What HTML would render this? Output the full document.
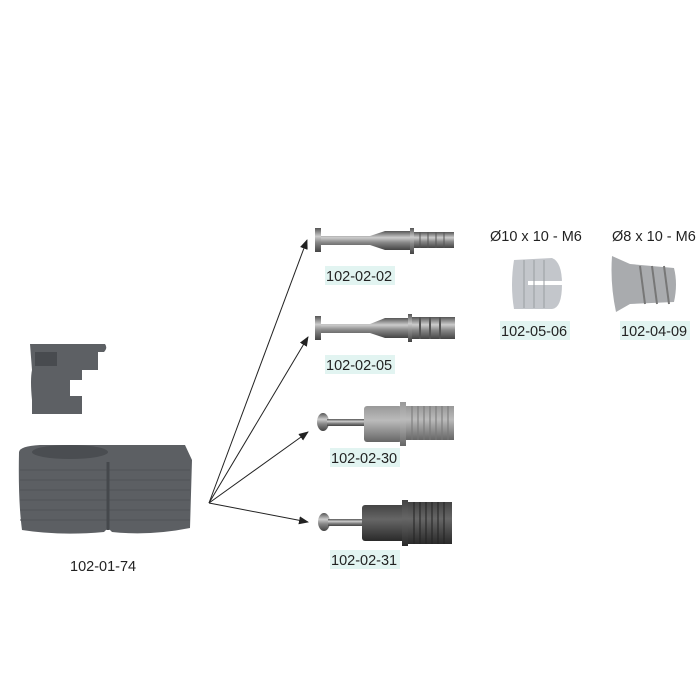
<!DOCTYPE html>
<html><head><style>
body{margin:0;background:#fff}
svg{display:block}
text{font-family:"Liberation Sans",sans-serif;font-size:14.5px;fill:#222}
</style></head><body>
<svg width="700" height="700" viewBox="0 0 700 700">
<defs>
<marker id="a" markerWidth="10" markerHeight="8" refX="9" refY="4" orient="auto" markerUnits="userSpaceOnUse"><path d="M0,0L10,4L0,8z" fill="#222"/></marker>
<linearGradient id="m" x1="0" y1="0" x2="0" y2="1"><stop offset="0" stop-color="#555"/><stop offset=".35" stop-color="#ccc"/><stop offset=".6" stop-color="#888"/><stop offset="1" stop-color="#444"/></linearGradient>
<linearGradient id="g" x1="0" y1="0" x2="0" y2="1"><stop offset="0" stop-color="#999"/><stop offset=".4" stop-color="#bbb"/><stop offset="1" stop-color="#666"/></linearGradient>
<linearGradient id="d" x1="0" y1="0" x2="0" y2="1"><stop offset="0" stop-color="#444"/><stop offset=".4" stop-color="#666"/><stop offset="1" stop-color="#2a2a2a"/></linearGradient>
</defs>
<!-- left pieces -->
<path d="M30,344 L105,344 Q108,348 104,352 L98,352 L98,370 L82,370 L82,380 L70,380 L70,396 L82,396 L82,414 L32,414 L32,400 Q30,380 32,370 L30,344z" fill="#5d6064"/>
<rect x="35" y="352" width="22" height="14" fill="#484b4f"/>
<path d="M19,452 Q20,446 40,445 L185,445 L192,460 L190,528 Q150,536 112,532 L108,528 L104,532 Q60,536 22,530 Q18,500 19,452z" fill="#5c5f63"/>
<ellipse cx="70" cy="452" rx="38" ry="7" fill="#4a4d51"/>
<g stroke="#505357" stroke-width="1">
<line x1="20" y1="470" x2="190" y2="470"/><line x1="20" y1="480" x2="190" y2="480"/><line x1="20" y1="490" x2="190" y2="490"/><line x1="20" y1="500" x2="190" y2="500"/><line x1="20" y1="510" x2="190" y2="510"/><line x1="20" y1="520" x2="190" y2="520"/></g>
<line x1="108" y1="462" x2="108" y2="530" stroke="#45484c" stroke-width="3"/>
<text x="70" y="571">102-01-74</text>
<!-- arrows -->
<g stroke="#222" stroke-width="1" marker-end="url(#a)">
<line x1="209" y1="503" x2="307" y2="240"/>
<line x1="209" y1="503" x2="308" y2="337"/>
<line x1="209" y1="503" x2="308" y2="432"/>
<line x1="209" y1="503" x2="308" y2="522"/>
</g>
<!-- screw 1 -->
<rect x="315" y="228" width="6" height="24" fill="url(#m)"/>
<path d="M321,236 L370,236 L385,231 L412,231 L412,250 L385,250 L370,245 L321,245z" fill="url(#m)"/>
<rect x="410" y="228" width="4" height="26" fill="url(#m)"/>
<rect x="414" y="232" width="40" height="16" fill="url(#m)"/>
<g stroke="#555"><line x1="420" y1="232" x2="420" y2="248"/><line x1="428" y1="232" x2="428" y2="248"/><line x1="436" y1="232" x2="436" y2="248"/><line x1="444" y1="232" x2="444" y2="248"/></g>
<rect x="325" y="266" width="70" height="19" fill="#e2f4f1"/><text x="326" y="281">102-02-02</text>
<!-- screw 2 -->
<rect x="315" y="316" width="6" height="24" fill="url(#m)"/>
<path d="M321,324 L370,324 L385,318 L410,318 L410,338 L385,338 L370,333 L321,333z" fill="url(#m)"/>
<rect x="408" y="314" width="4" height="28" fill="url(#m)"/>
<rect x="412" y="317" width="43" height="22" fill="url(#m)"/>
<g stroke="#555" stroke-width="2"><line x1="420" y1="317" x2="420" y2="339"/><line x1="430" y1="317" x2="430" y2="339"/><line x1="440" y1="317" x2="440" y2="339"/></g>
<rect x="325" y="355" width="70" height="19" fill="#e2f4f1"/><text x="326" y="370">102-02-05</text>
<!-- screw 3 -->
<ellipse cx="323" cy="422" rx="6" ry="9" fill="url(#m)"/>
<rect x="327" y="419" width="40" height="7" fill="url(#m)"/>
<rect x="364" y="406" width="38" height="36" rx="3" fill="url(#g)"/>
<rect x="400" y="402" width="6" height="44" fill="url(#g)"/>
<rect x="406" y="406" width="48" height="34" fill="url(#g)"/>
<g stroke="#777"><line x1="412" y1="406" x2="412" y2="440"/><line x1="418" y1="406" x2="418" y2="440"/><line x1="424" y1="406" x2="424" y2="440"/><line x1="430" y1="406" x2="430" y2="440"/><line x1="436" y1="406" x2="436" y2="440"/><line x1="442" y1="406" x2="442" y2="440"/><line x1="448" y1="406" x2="448" y2="440"/></g>
<rect x="330" y="448" width="70" height="19" fill="#e2f4f1"/><text x="331" y="463">102-02-30</text>
<!-- screw 4 -->
<ellipse cx="324" cy="522" rx="6" ry="9" fill="url(#m)"/>
<rect x="328" y="519" width="38" height="7" fill="url(#m)"/>
<rect x="362" y="505" width="44" height="36" rx="3" fill="url(#d)"/>
<rect x="402" y="500" width="6" height="46" fill="url(#d)"/>
<rect x="408" y="502" width="44" height="42" fill="url(#d)"/>
<g stroke="#222"><line x1="414" y1="502" x2="414" y2="544"/><line x1="420" y1="502" x2="420" y2="544"/><line x1="426" y1="502" x2="426" y2="544"/><line x1="432" y1="502" x2="432" y2="544"/><line x1="438" y1="502" x2="438" y2="544"/><line x1="444" y1="502" x2="444" y2="544"/></g>
<rect x="330" y="550" width="70" height="19" fill="#e2f4f1"/><text x="331" y="565">102-02-31</text>
<!-- inserts -->
<text x="490" y="241">Ø10 x 10 - M6</text>
<text x="612" y="241">Ø8 x 10 - M6</text>
<path d="M514,260 L552,258 Q562,262 562,284 Q562,308 552,309 L514,309 Q510,285 514,260z" fill="#c3c6cb"/>
<rect x="528" y="281" width="34" height="4" fill="#fff"/>
<g stroke="#9a9da2"><line x1="524" y1="260" x2="524" y2="308"/><line x1="534" y1="260" x2="534" y2="308"/><line x1="544" y1="260" x2="544" y2="308"/></g>
<rect x="500" y="321" width="70" height="19" fill="#e2f4f1"/><text x="501" y="336">102-05-06</text>
<path d="M612,256 L630,264 L674,268 Q678,284 674,302 L630,304 L616,312 Q610,284 612,256z" fill="#a9abae"/>
<g stroke="#777" stroke-width="2"><line x1="640" y1="266" x2="645" y2="304"/><line x1="652" y1="266" x2="657" y2="304"/><line x1="664" y1="266" x2="669" y2="304"/></g>
<rect x="620" y="321" width="70" height="19" fill="#e2f4f1"/><text x="621" y="336">102-04-09</text>
</svg>
</body></html>
